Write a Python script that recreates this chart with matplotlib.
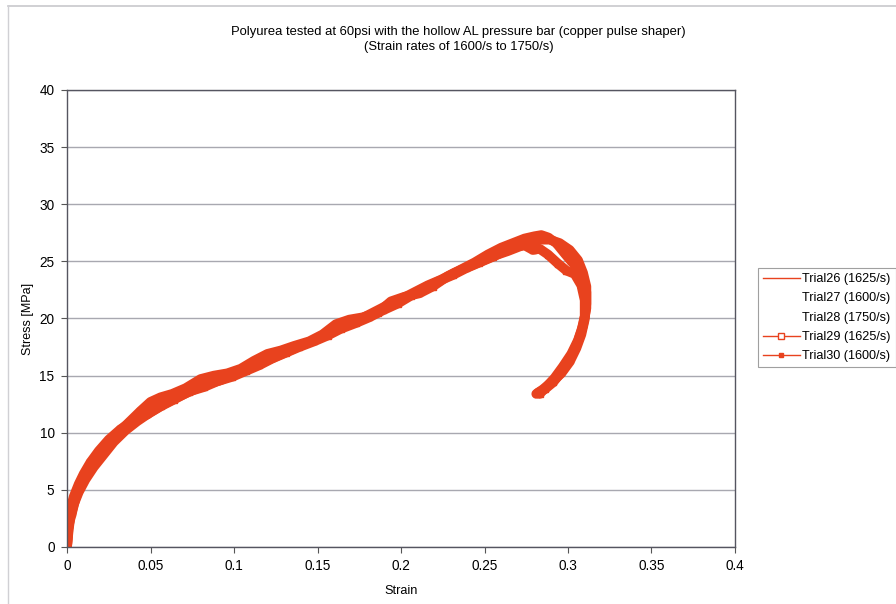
import matplotlib.pyplot as plt
from matplotlib.lines import Line2D

plt.rcParams['font.family'] = ['Liberation Sans', 'DejaVu Sans']

RED = '#e8421e'

# stress-strain traces (strain [-], stress [MPa])
trial26_strain = [0, 0.001, 0.002, 0.004, 0.007, 0.011, 0.016, 0.022, 0.028, 0.035, 0.042, 0.050, 0.058,
                  0.066, 0.075, 0.083, 0.092, 0.100, 0.108, 0.116, 0.124, 0.132, 0.141, 0.150, 0.158, 0.166,
                  0.175, 0.183, 0.191, 0.200, 0.208, 0.216, 0.224, 0.232, 0.240, 0.248, 0.256, 0.264, 0.271,
                  0.277, 0.283, 0.289, 0.295, 0.301, 0.306, 0.309, 0.311, 0.311, 0.310, 0.308, 0.305, 0.301,
                  0.296, 0.290, 0.285, 0.281]
trial26_stress = [0, 1.5, 2.6, 3.7, 4.8, 5.9, 7.0, 8.1, 9.2, 10.2, 11.0, 11.8, 12.5,
                  13.1, 13.7, 14.2, 14.6, 15.1, 15.6, 16.1, 16.6, 17.1, 17.7, 18.2, 18.8, 19.4,
                  19.9, 20.5, 21.1, 21.7, 22.3, 22.9, 23.4, 24.0, 24.5, 25.0, 25.5, 25.9, 26.3,
                  26.6, 26.9, 26.9, 26.6, 26.0, 25.1, 24.0, 22.8, 21.3, 19.9, 18.6, 17.4, 16.2,
                  15.2, 14.4, 13.8, 13.4]

trial29_strain = [0, 0.001, 0.003, 0.005, 0.008, 0.012, 0.017, 0.023, 0.030, 0.037, 0.044, 0.050, 0.056,
                  0.063, 0.071, 0.080, 0.088, 0.096, 0.104, 0.112, 0.120, 0.128, 0.136, 0.145, 0.153, 0.161,
                  0.169, 0.177, 0.186, 0.194, 0.202, 0.211, 0.219, 0.228, 0.236, 0.244, 0.252, 0.260, 0.267,
                  0.274, 0.280, 0.284, 0.288, 0.293, 0.298, 0.302, 0.306, 0.309, 0.311, 0.311, 0.309, 0.306,
                  0.302, 0.297, 0.292, 0.287, 0.283]
trial29_stress = [0, 1.9, 3.0, 4.2, 5.4, 6.6, 7.7, 8.8, 9.9, 10.9, 11.9, 12.7, 13.1,
                  13.4, 13.9, 14.7, 15.0, 15.2, 15.6, 16.3, 16.9, 17.2, 17.6, 18.0, 18.6, 19.5,
                  19.9, 20.1, 20.5, 21.5, 21.9, 22.2, 22.8, 23.7, 24.3, 24.9, 25.6, 26.2, 26.6,
                  27.0, 27.2, 27.3, 27.1, 26.6, 25.7, 25.0, 24.4, 23.5, 22.3, 20.9, 19.4, 18.1,
                  16.9, 15.8, 14.8, 14.0, 13.4]

trial30_strain = [0, 0.001, 0.002, 0.004, 0.007, 0.010, 0.014, 0.019, 0.025, 0.032, 0.040, 0.048, 0.056,
                  0.064, 0.073, 0.082, 0.090, 0.099, 0.107, 0.115, 0.123, 0.131, 0.139, 0.148, 0.156, 0.164,
                  0.173, 0.181, 0.189, 0.198, 0.206, 0.214, 0.223, 0.231, 0.239, 0.247, 0.255, 0.262, 0.268,
                  0.274, 0.279, 0.283, 0.288, 0.294, 0.299, 0.304, 0.308, 0.310, 0.310, 0.308, 0.305, 0.301,
                  0.296, 0.291, 0.286, 0.282]
trial30_stress = [0, 2.4, 3.3, 4.4, 5.5, 6.4, 7.4, 8.4, 9.4, 10.3, 11.1, 11.6, 12.3,
                  12.9, 13.6, 14.0, 14.5, 14.9, 15.4, 15.9, 16.5, 17.0, 17.5, 18.0, 18.5, 19.1,
                  19.6, 20.1, 20.7, 21.3, 22.0, 22.6, 23.3, 23.8, 24.4, 24.9, 25.4, 25.9, 26.3,
                  26.4, 26.0, 26.1, 25.6, 24.8, 24.2, 23.9, 22.9, 21.6, 20.2, 18.9, 17.6, 16.4,
                  15.3, 14.4, 13.8, 13.5]

legend_labels = ['Trial26 (1625/s)', 'Trial27 (1600/s)', 'Trial28 (1750/s)',
                 'Trial29 (1625/s)', 'Trial30 (1600/s)']
x_ticks = [0, 0.05, 0.1, 0.15, 0.2, 0.25, 0.3, 0.35, 0.4]
x_tick_labels = ['0', '0.05', '0.1', '0.15', '0.2', '0.25', '0.3', '0.35', '0.4']
y_ticks = [0, 5, 10, 15, 20, 25, 30, 35, 40]

fig = plt.figure(figsize=(8.96, 6.04), dpi=100)
ax = fig.add_axes([0.0748, 0.0944, 0.7455, 0.7566])

# faint chart-area border along top and left
fig.add_artist(Line2D([0.009, 1.0], [0.990, 0.990], transform=fig.transFigure, color='#c8c8cc', lw=1.2))
fig.add_artist(Line2D([0.009, 0.009], [0.0, 0.990], transform=fig.transFigure, color='#d0d0d4', lw=1.0))

# thick overlapping traces
line_kw = dict(color=RED, solid_capstyle='round', solid_joinstyle='round')
ax.plot(trial26_strain, trial26_stress, lw=7, **line_kw)
ax.plot(trial29_strain, trial29_stress, lw=7, marker='s', ms=5, mfc=RED, mec=RED, **line_kw)
ax.plot(trial30_strain, trial30_stress, lw=7, marker='s', ms=4, mfc=RED, mec=RED, **line_kw)

ax.set_xlim(0, 0.4)
ax.set_ylim(0, 40)
ax.set_xticks(x_ticks)
ax.set_xticklabels(x_tick_labels)
ax.set_yticks(y_ticks)
ax.yaxis.grid(True, color='#a8a8b0', lw=1.0)
ax.set_axisbelow(True)
ax.tick_params(labelsize=9.8, length=4, width=0.8, color='#555555', pad=5)
for s in ax.spines.values():
    s.set_color('#555560')
    s.set_linewidth(1.0)

ax.set_xlabel('Strain', fontsize=9.2, labelpad=8)
ax.set_ylabel('Stress [MPa]', fontsize=9.0, labelpad=4)
fig.text(0.512, 0.947, 'Polyurea tested at 60psi with the hollow AL pressure bar (copper pulse shaper)',
         ha='center', va='center', fontsize=9.4)
fig.text(0.512, 0.922, '(Strain rates of 1600/s to 1750/s)', ha='center', va='center', fontsize=9.4)

handles = [
    Line2D([], [], color=RED, lw=1),
    Line2D([], [], ls='none'),
    Line2D([], [], ls='none'),
    Line2D([], [], color=RED, lw=1, marker='s', ms=4, mfc='white', mec=RED),
    Line2D([], [], color=RED, lw=1, marker='s', ms=3, mfc=RED, mec=RED),
]
leg = ax.legend(handles, legend_labels, loc='upper left', bbox_to_anchor=(1.0344, 0.6105),
                fontsize=9.1, frameon=True, fancybox=False, handlelength=2.9, handletextpad=0.2,
                labelspacing=0.58, borderpad=0.4, borderaxespad=0)
leg.get_frame().set_edgecolor('#888888')
leg.get_frame().set_linewidth(0.8)

fig.savefig('out.png', dpi=100)
